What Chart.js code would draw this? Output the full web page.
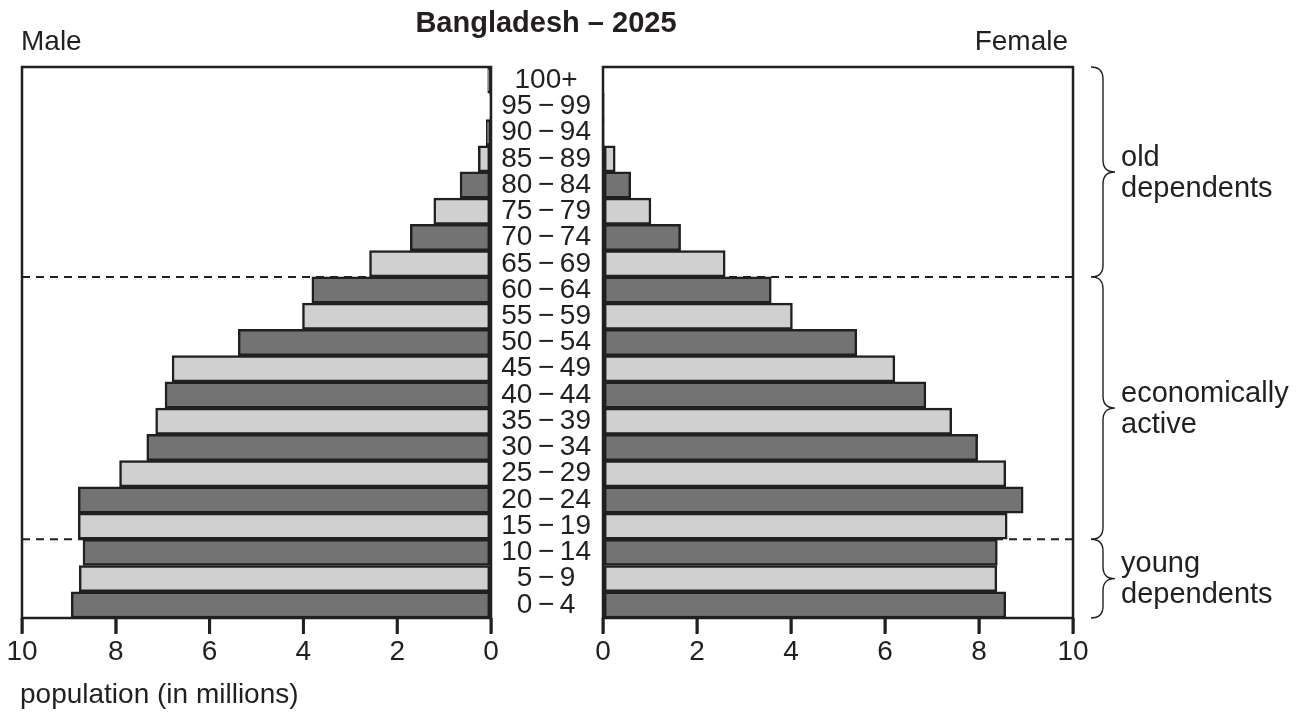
<!DOCTYPE html>
<html>
<head>
<meta charset="utf-8">
<script src="https://cdn.jsdelivr.net/npm/chart.js@4.4.1/dist/chart.umd.min.js"></script>
<style>
  body { margin:0; background:#fff; width:1301px; height:716px; position:relative; overflow:hidden;
         font-family:'Liberation Sans', Arial, sans-serif; color:#231f20; }
  canvas { position:absolute; top:0; }
  .txt { position:absolute; font-size:28px; line-height:28px; white-space:nowrap; }
  .grp { font-size:29px; line-height:31px; }
</style>
</head>
<body>
<canvas id="maleChart" width="500" height="716" style="left:0px"></canvas>
<canvas id="femaleChart" width="810" height="716" style="left:491px"></canvas>

<div class="txt" style="left:546px;top:8px;font-size:29px;font-weight:bold;transform:translateX(-50%)">Bangladesh – 2025</div>
<div class="txt" style="left:21px;top:27px">Male</div>
<div class="txt" style="right:233px;top:27px">Female</div>
<div class="txt" style="left:20px;top:680px">population (in millions)</div>
<div class="txt grp" style="left:1121px;top:141px">old<br>dependents</div>
<div class="txt grp" style="left:1121px;top:377px">economically<br>active</div>
<div class="txt grp" style="left:1121px;top:547px">young<br>dependents</div>

<script>
// age groups, youngest first (drawn bottom to top)
var ageGroups = ['0–4','5–9','10–14','15–19','20–24','25–29','30–34','35–39','40–44','45–49',
                 '50–54','55–59','60–64','65–69','70–74','75–79','80–84','85–89','90–94','95–99','100+'];
// population in millions
var maleValues   = [8.95, 8.78, 8.70, 8.80, 8.80, 7.92, 7.34, 7.15, 6.95, 6.80,
                    5.39, 4.02, 3.82, 2.59, 1.72, 1.22, 0.66, 0.27, 0.10, 0.02, 0.07];
var femaleValues = [8.57, 8.38, 8.39, 8.60, 8.94, 8.57, 7.97, 7.42, 6.87, 6.21,
                    5.40, 4.03, 3.58, 2.60, 1.65, 1.02, 0.59, 0.26, 0.02, 0.01, 0];
var xTicks = [0, 2, 4, 6, 8, 10];
// dashed lines go above these groups
var dividerBelow = ['15–19', '65–69'];
// brackets on the right
var bracketGroups = [
  {from: '65–69', to: '100+'},
  {from: '15–19', to: '60–64'},
  {from: '0–4',   to: '10–14'}
];

var ink = '#231f20';
var dark = '#737373';
var light = '#d0d0d0';
var fontFam = "'Liberation Sans', Arial, sans-serif";

// label shown in the middle: thin spaces round a minus sign
var shownLabels = ageGroups.map(a => a.replace('–', '\u2009\u2212\u2009'));

function barColour(ctx) {
  return ctx.dataIndex % 2 === 0 ? dark : light;
}

var boxPlugin = {
  id: 'box',
  beforeDatasetsDraw(chart) {
    const {ctx, chartArea, scales} = chart;
    const y = scales.y;
    ctx.save();
    ctx.strokeStyle = ink;
    ctx.lineWidth = 2;
    ctx.setLineDash([8, 6]);
    dividerBelow.forEach(lbl => {
      const i = ageGroups.indexOf(lbl);
      const py = (y.getPixelForValue(i) + y.getPixelForValue(i - 1)) / 2;
      ctx.beginPath();
      if (chart.canvas.id === 'maleChart') {
        ctx.moveTo(chartArea.left, py);
        ctx.lineTo(chartArea.right, py);
      } else {
        ctx.moveTo(chartArea.right, py);
        ctx.lineTo(chartArea.left, py);
      }
      ctx.stroke();
    });
    ctx.restore();
  },
  afterDraw(chart) {
    const {ctx, chartArea, scales} = chart;
    ctx.save();
    ctx.setLineDash([]);
    ctx.strokeStyle = ink;
    ctx.lineWidth = 2.5;
    ctx.strokeRect(chartArea.left, chartArea.top, chartArea.right - chartArea.left, chartArea.bottom - chartArea.top);
    // tick marks under the panel
    ctx.fillStyle = ink;
    xTicks.forEach(v => {
      const px = scales.x.getPixelForValue(v);
      ctx.fillRect(px - 1.5, chartArea.bottom, 3, 16);
    });
    ctx.restore();
  }
};

var bracePlugin = {
  id: 'braces',
  afterDraw(chart) {
    const {ctx, chartArea, scales} = chart;
    const y = scales.y;
    const half = (y.getPixelForValue(0) - y.getPixelForValue(1)) / 2;
    const x0 = chartArea.right + 18, x1 = chartArea.right + 30, x2 = chartArea.right + 42;
    const r = 12;
    ctx.save();
    ctx.strokeStyle = ink;
    ctx.lineWidth = 1.4;
    bracketGroups.forEach(g => {
      const top = y.getPixelForValue(ageGroups.indexOf(g.to)) - half;
      const bottom = y.getPixelForValue(ageGroups.indexOf(g.from)) + half;
      const mid = (top + bottom) / 2;
      ctx.beginPath();
      ctx.moveTo(x0, top);
      ctx.quadraticCurveTo(x1, top, x1, top + r);
      ctx.lineTo(x1, mid - r);
      ctx.quadraticCurveTo(x1, mid, x2, mid);
      ctx.quadraticCurveTo(x1, mid, x1, mid + r);
      ctx.lineTo(x1, bottom - r);
      ctx.quadraticCurveTo(x1, bottom, x0, bottom);
      ctx.stroke();
    });
    ctx.restore();
  }
};

function xAxis(reverse) {
  return {
    type: 'linear',
    reverse: reverse,
    min: 0,
    max: 10,
    afterBuildTicks: s => { s.ticks = xTicks.map(v => ({value: v})); },
    afterFit: s => { s.height = 98; },
    grid: { drawOnChartArea: false, drawTicks: true, tickLength: 15, color: ink, lineWidth: 2.5 },
    border: { display: false },
    ticks: { color: ink, font: { family: fontFam, size: 28 }, padding: 2, maxRotation: 0 }
  };
}

function dataset(values) {
  return {
    data: values,
    backgroundColor: barColour,
    borderColor: ink,
    borderWidth: 2.5,
    borderSkipped: false,
    barPercentage: 1,
    categoryPercentage: 1
  };
}

new Chart(document.getElementById('maleChart'), {
  type: 'bar',
  data: { labels: shownLabels, datasets: [dataset(maleValues)] },
  options: {
    indexAxis: 'y',
    responsive: false,
    animation: false,
    layout: { padding: { left: 22, right: 9, top: 67, bottom: 0 } },
    scales: {
      x: xAxis(true),
      y: { reverse: true, display: false }
    },
    plugins: { legend: { display: false }, tooltip: { enabled: false } }
  },
  plugins: [boxPlugin]
});

new Chart(document.getElementById('femaleChart'), {
  type: 'bar',
  data: { labels: shownLabels, datasets: [dataset(femaleValues)] },
  options: {
    indexAxis: 'y',
    responsive: false,
    animation: false,
    layout: { padding: { left: 0, right: 228, top: 67, bottom: 0 } },
    scales: {
      x: xAxis(false),
      y: {
        reverse: true,
        afterFit: s => { s.width = 112; },
        grid: { display: false, drawTicks: false },
        border: { display: false },
        ticks: { color: ink, font: { family: fontFam, size: 28 }, crossAlign: 'center', padding: 12, autoSkip: false }
      }
    },
    plugins: { legend: { display: false }, tooltip: { enabled: false } }
  },
  plugins: [boxPlugin, bracePlugin]
});
</script>
</body>
</html>
